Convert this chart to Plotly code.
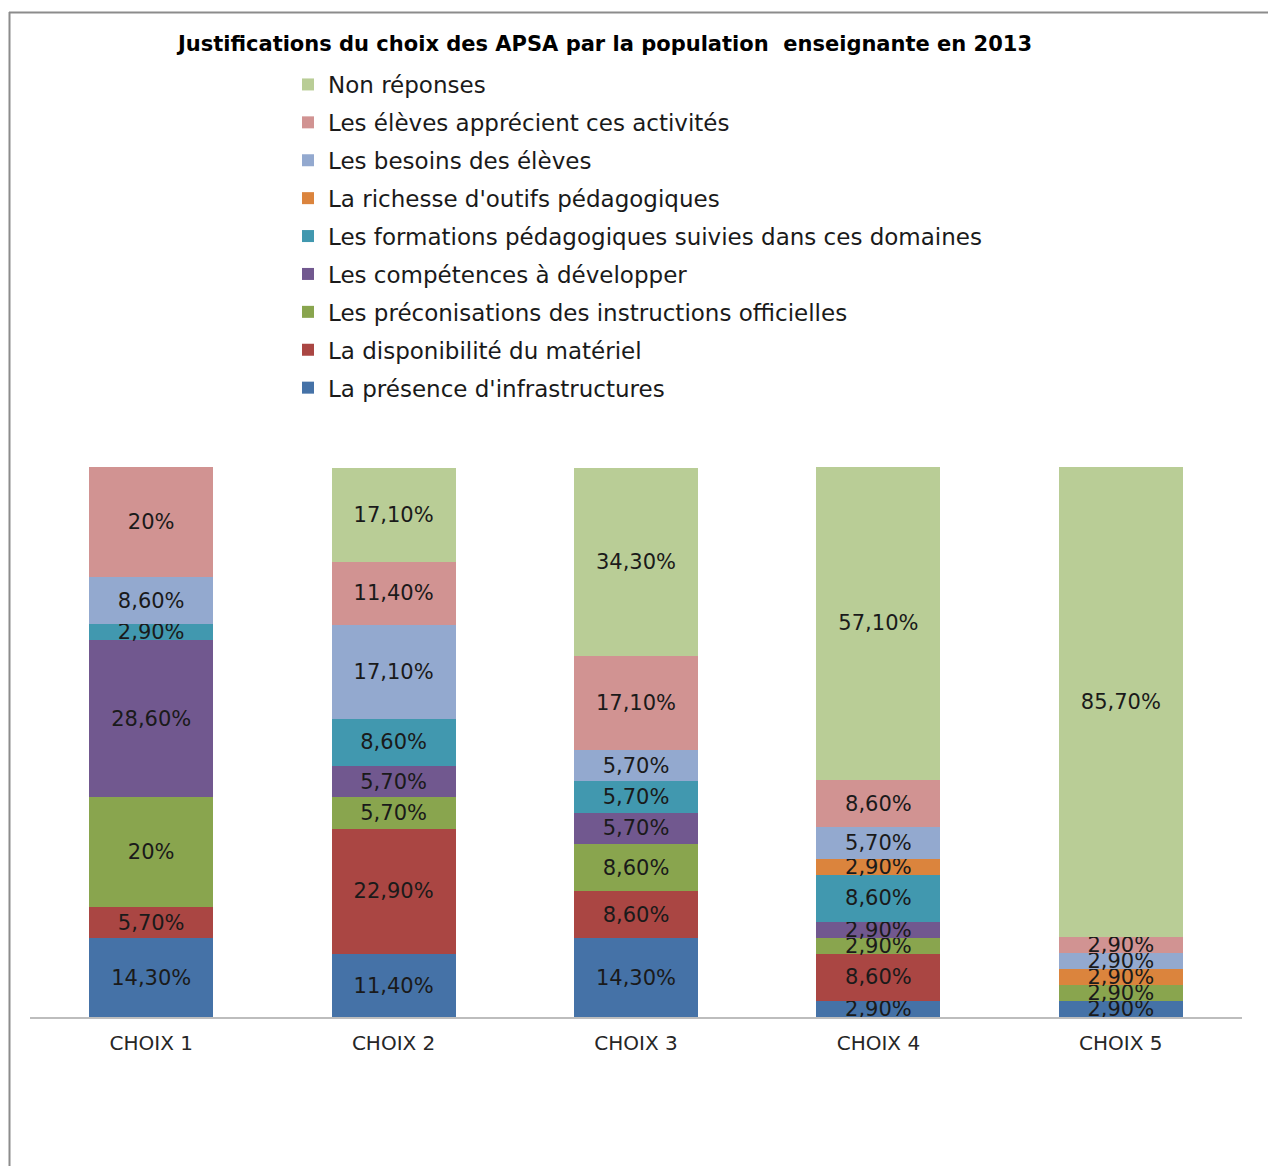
import plotly.graph_objects as go

categories = ["CHOIX 1", "CHOIX 2", "CHOIX 3", "CHOIX 4", "CHOIX 5"]

# series, bottom to top of the stack
series_names = [
    "La présence d'infrastructures",
    "La disponibilité du matériel",
    "Les préconisations des instructions officielles",
    "Les compétences à développer",
    "Les formations pédagogiques suivies dans ces domaines",
    "La richesse d'outifs pédagogiques",
    "Les besoins des élèves",
    "Les élèves apprécient ces activités",
    "Non réponses",
]
infrastructures = [14.3, 11.4, 14.3, 2.9, 2.9]
disponibilite = [5.7, 22.9, 8.6, 8.6, None]
preconisations = [20, 5.7, 8.6, 2.9, 2.9]
competences = [28.6, 5.7, 5.7, 2.9, None]
formations = [2.9, 8.6, 5.7, 8.6, None]
richesse = [None, None, None, 2.9, 2.9]
besoins = [8.6, 17.1, 5.7, 5.7, 2.9]
apprecient = [20, 11.4, 17.1, 8.6, 2.9]
non_reponses = [None, 17.1, 34.3, 57.1, 85.7]

series_values = [infrastructures, disponibilite, preconisations, competences,
                 formations, richesse, besoins, apprecient, non_reponses]
colors = ["#4572A7", "#AA4643", "#89A54E", "#71588F", "#4198AF",
          "#DB843D", "#93A9CF", "#D19392", "#B9CD96"]

W, H = 1268, 1166
ML, MR, MT, MB = 30, 26, 466, 149
PW, PH = W - ML - MR, H - MT - MB


def px_x(p):
    return (p - ML) / PW


def px_y(p):
    return (H - MB - p) / PH


def fmt(v):
    if v is None:
        return ""
    if float(v).is_integer():
        return f"{int(v)}%"
    return f"{v:.2f}".replace(".", ",") + "%"


fig = go.Figure()
for i, (name, vals, col) in enumerate(zip(series_names, series_values, colors)):
    fig.add_trace(go.Bar(
        name=name, x=categories, y=vals,
        marker=dict(color=col, line=dict(width=0)),
        text=[fmt(v) for v in vals],
        textposition="inside", insidetextanchor="middle",
        textangle=0, constraintext="none",
        textfont=dict(family="DejaVu Sans", size=21, color="#1a1a1a"),
        legendgroup=f"g{i}",
        legendrank=100 - i,
        hoverinfo="skip",
    ))

fig.update_layout(
    width=W, height=H,
    margin=dict(l=ML, r=MR, t=MT, b=MB, autoexpand=False),
    barmode="stack", bargap=0.488,
    plot_bgcolor="white", paper_bgcolor="white",
    uniformtext=dict(minsize=21, mode="show"),
    font=dict(family="DejaVu Sans", color="#1a1a1a"),
    title=dict(
        text="<b>Justifications du choix des APSA par la population  enseignante en 2013</b>",
        x=px_x(605), xref="paper", xanchor="center",
        y=1 - 44 / H, yref="container", yanchor="middle",
        font=dict(family="DejaVu Sans", size=21, color="#000000"),
    ),
    legend=dict(
        x=px_x(288), xanchor="left",
        y=px_y(63), yanchor="top",
        traceorder="grouped",
        tracegroupgap=5,
        font=dict(family="DejaVu Sans", size=23, color="#1a1a1a"),
        bgcolor="rgba(0,0,0,0)",
    ),
    xaxis=dict(
        showline=True, linecolor="#bdbdbd", linewidth=2,
        showgrid=False, ticks="", zeroline=False,
        tickfont=dict(family="DejaVu Sans", size=20, color="#262626"),
        ticklabelstandoff=7,
    ),
    yaxis=dict(range=[0, 100.3], visible=False, showgrid=False),
    shapes=[
        dict(type="line", xref="paper", yref="paper",
             x0=px_x(9), x1=px_x(1268), y0=px_y(12.5), y1=px_y(12.5),
             line=dict(color="#8c8c8c", width=2)),
        dict(type="line", xref="paper", yref="paper",
             x0=px_x(9.5), x1=px_x(9.5), y0=px_y(12), y1=px_y(1166),
             line=dict(color="#8c8c8c", width=2)),
    ],
)

fig.write_html("out.html", config={"displayModeBar": False},
               post_script="document.body.style.margin='0px';")
